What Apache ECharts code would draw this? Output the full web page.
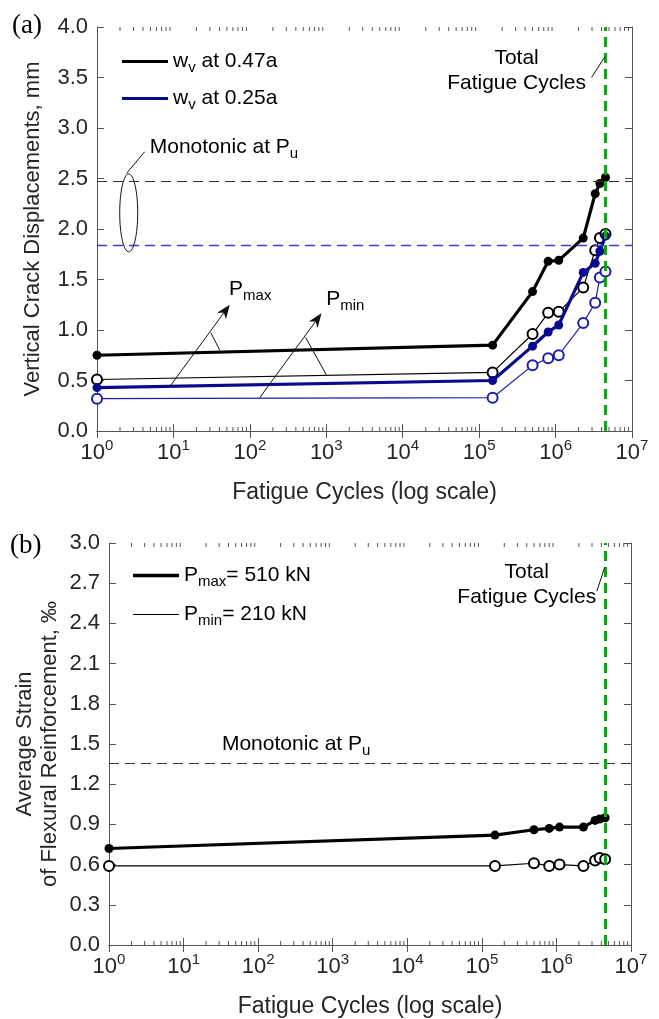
<!DOCTYPE html>
<html>
<head>
<meta charset="utf-8">
<script src="https://cdn.jsdelivr.net/npm/echarts@6/dist/echarts.min.js"></script>
<style>
  html, body { margin: 0; padding: 0; background: #fff; }
  #chart { width: 659px; height: 1019px; }
</style>
</head>
<body>
<div id="chart"></div>
<script>
// Fatigue cycle counts at which readings were taken
const cycles = [1, 1.5e5, 5e5, 8e5, 1.1e6, 2.3e6, 3.3e6, 3.8e6, 4.5e6];

// Vertical crack displacement w_v (mm)
const wv047Pmax = [0.75, 0.85, 1.38, 1.68, 1.69, 1.91, 2.35, 2.45, 2.51];
const wv047Pmin = [0.51, 0.58, 0.96, 1.17, 1.18, 1.42, 1.79, 1.91, 1.95];
const wv025Pmax = [0.43, 0.50, 0.84, 0.98, 1.05, 1.57, 1.66, 1.78, 1.93];
const wv025Pmin = [0.32, 0.33, 0.65, 0.72, 0.75, 1.07, 1.27, 1.52, 1.58];

// Average strain of flexural reinforcement (‰)
const strainPmax = [0.72, 0.82, 0.86, 0.87, 0.88, 0.88, 0.93, 0.94, 0.95];
const strainPmin = [0.59, 0.59, 0.61, 0.59, 0.60, 0.59, 0.63, 0.65, 0.64];

// Reference levels
const totalCycles = 4.5e6;
const monotonicWv047 = 2.47;
const monotonicWv025 = 1.84;
const monotonicStrain = 1.36;

// Log-axis minor tick multipliers within each decade
const decades = [1, 10, 100, 1e3, 1e4, 1e5, 1e6];
const minorSteps = [2, 3, 4, 5, 6, 7, 8, 9];

const FONT = 'Liberation Sans, Arial, Helvetica, sans-serif';
const AXIS_COLOR = '#555';
const LABEL_COLOR = '#262626';
const NAVY = '#0a0a8f';
const BLUE_THIN = '#1c1cae';
const GREEN = '#17a317';

const chart = echarts.init(document.getElementById('chart'), null, { renderer: 'canvas' });

const pairs = ys => cycles.map((c, i) => [c, ys[i]]);

const supRich = {
  b: { fontSize: 22, fontFamily: FONT, color: LABEL_COLOR },
  s: { fontSize: 15, fontFamily: FONT, color: LABEL_COLOR, padding: [0, 0, 15, 0] }
};
const subRich = (color) => ({
  b: { fontSize: 21, fontFamily: FONT, color: color },
  s: { fontSize: 15, fontFamily: FONT, color: color, padding: [13, 0, 0, 0] }
});

function xAxisPair(gridIndex) {
  const common = {
    type: 'log', logBase: 10, min: 1, max: 1e7, splitNumber: 7, gridIndex,
    axisLine: { show: true, lineStyle: { color: AXIS_COLOR, width: 1 } },
    axisTick: { show: true, inside: true, length: 7, lineStyle: { color: AXIS_COLOR } },
    splitLine: { show: false }
  };
  return [
    Object.assign({}, common, {
      position: 'bottom',
      axisLabel: {
        margin: 7,
        formatter: v => '{b|10}{s|' + Math.round(Math.log10(v)) + '}',
        rich: supRich
      },
      name: 'Fatigue Cycles (log scale)',
      nameLocation: 'middle',
      nameGap: 50,
      nameTextStyle: { fontSize: 23, fontFamily: FONT, color: LABEL_COLOR }
    }),
    Object.assign({}, common, { position: 'top', axisLabel: { show: false } })
  ];
}

function yAxisPair(gridIndex, max, interval, name, nameGap) {
  const common = {
    type: 'value', min: 0, max, interval, gridIndex,
    axisLine: { show: true, lineStyle: { color: AXIS_COLOR, width: 1 } },
    axisTick: { show: true, inside: true, length: 7, lineStyle: { color: AXIS_COLOR } },
    splitLine: { show: false }
  };
  return [
    Object.assign({}, common, {
      position: 'left',
      axisLabel: {
        margin: 9, fontSize: 22, fontFamily: FONT, color: LABEL_COLOR,
        formatter: v => v.toFixed(1)
      },
      name, nameLocation: 'middle', nameGap, nameRotate: 90,
      nameMoveOverlap: false,
      nameTextStyle: { fontSize: 22, fontFamily: FONT, color: LABEL_COLOR, lineHeight: 25 }
    }),
    Object.assign({}, common, { position: 'right', axisLabel: { show: false } })
  ];
}

// Short minor ticks on the bottom and top edges of a log-x grid
function minorTickSeries(xi, yi, yMin, yMax) {
  const values = [];
  decades.forEach(d => minorSteps.forEach(m => values.push([d * m, yMin])));
  return {
    type: 'custom', xAxisIndex: xi, yAxisIndex: yi, silent: true, clip: false, z: 1,
    data: values,
    renderItem(params, api) {
      const b = api.coord([api.value(0), yMin]);
      const t = api.coord([api.value(0), yMax]);
      const st = { stroke: AXIS_COLOR, lineWidth: 1 };
      return {
        type: 'group',
        children: [
          { type: 'line', shape: { x1: b[0], y1: b[1], x2: b[0], y2: b[1] - 4 }, style: st },
          { type: 'line', shape: { x1: t[0], y1: t[1], x2: t[0], y2: t[1] + 4 }, style: st }
        ]
      };
    }
  };
}

function dataSeries(name, ys, xi, yi, color, thick) {
  return {
    name, type: 'line', xAxisIndex: xi, yAxisIndex: yi,
    data: pairs(ys),
    symbol: thick ? 'circle' : 'emptyCircle',
    symbolSize: thick ? 9 : 10,
    showSymbol: true,
    lineStyle: { color, width: thick ? 3.2 : 1.2 },
    itemStyle: { color, borderColor: color, borderWidth: thick ? 0 : 1.2 },
    emphasis: { disabled: true },
    z: thick ? 4 : 3
  };
}

// Horizontal / vertical reference lines drawn as their own mark-line series
function refLineSeries(xi, yi, item, color, width, dash, z) {
  return {
    type: 'line', xAxisIndex: xi, yAxisIndex: yi, data: [], silent: true, z,
    markLine: {
      silent: true, symbol: 'none', label: { show: false }, animation: false,
      emphasis: { disabled: true },
      lineStyle: { color, width, type: dash, opacity: 1 },
      data: [item]
    }
  };
}

const legendText = {
  wv047: '{b|w}{s|v}{b| at 0.47a}',
  wv025: '{b|w}{s|v}{b| at 0.25a}',
  strainPmax: '{b|P}{s|max}{b|= 510 kN}',
  strainPmin: '{b|P}{s|min}{b|= 210 kN}'
};

function legendItem(name, left, top, thickness) {
  return {
    data: [{ name, icon: 'rect', itemStyle: { borderWidth: 0 } }],
    left, top, orient: 'vertical',
    itemWidth: 46, itemHeight: thickness,
    selectedMode: false,
    itemStyle: { borderWidth: 0 },
    formatter: n => legendText[n],
    textStyle: { rich: subRich('#000') }
  };
}

const option = {
  animation: false,
  backgroundColor: '#fff',
  grid: [
    { left: 97, top: 27, width: 535, height: 404 },
    { left: 109, top: 543, width: 522, height: 404 }
  ],
  xAxis: [...xAxisPair(0), ...xAxisPair(1)],
  yAxis: [
    ...yAxisPair(0, 4, 0.5, 'Vertical Crack Displacements, mm', 52),
    ...yAxisPair(1, 3, 0.3, 'Average Strain\nof Flexural Reinforcement, ‰', 47)
  ],
  legend: [
    legendItem('wv047', 117, 46, 3),
    legendItem('wv025', 117, 83, 3),
    legendItem('strainPmax', 128, 560, 3.5),
    legendItem('strainPmin', 128, 599, 1)
  ],
  series: [
    minorTickSeries(0, 0, 0, 4),
    minorTickSeries(2, 2, 0, 3),
    refLineSeries(0, 0, { yAxis: monotonicWv047 }, '#333', 1.2, [10, 6], 2),
    refLineSeries(0, 0, { yAxis: monotonicWv025 }, '#3d3dd6', 1.3, [10, 6], 2),
    refLineSeries(0, 0, { xAxis: totalCycles }, GREEN, 3, [10, 6], 6),
    dataSeries('wv047', wv047Pmax, 0, 0, '#000', true),
    dataSeries('wv047min', wv047Pmin, 0, 0, '#000', false),
    dataSeries('wv025', wv025Pmax, 0, 0, NAVY, true),
    dataSeries('wv025min', wv025Pmin, 0, 0, BLUE_THIN, false),
    refLineSeries(2, 2, { yAxis: monotonicStrain }, '#333', 1.2, [10, 6], 2),
    refLineSeries(2, 2, { xAxis: totalCycles }, GREEN, 3, [10, 6], 6),
    dataSeries('strainPmax', strainPmax, 2, 2, '#000', true),
    dataSeries('strainPmin', strainPmin, 2, 2, '#000', false)
  ]
};

chart.setOption(option);

// ---- annotations, anchored in data coordinates ----
const TOP = { xAxisIndex: 0, yAxisIndex: 0 };
const BOT = { xAxisIndex: 2, yAxisIndex: 2 };
const px = (finder, p) => chart.convertToPixel(finder, p);
const INK = '#111';

function segment(a, b) {
  return { type: 'line', silent: true, z: 20,
    shape: { x1: a[0], y1: a[1], x2: b[0], y2: b[1] },
    style: { stroke: INK, lineWidth: 1 } };
}
function arrow(a, b) {
  const dx = b[0] - a[0], dy = b[1] - a[1];
  const L = Math.hypot(dx, dy), ux = dx / L, uy = dy / L;
  const hl = 14, hw = 5.5;
  const bx = b[0] - ux * hl, by = b[1] - uy * hl;
  const nx = bx + ux * 4, ny = by + uy * 4;
  return [
    segment(a, [nx, ny]),
    { type: 'polygon', silent: true, z: 20,
      shape: { points: [b, [bx - uy * hw, by + ux * hw], [nx, ny], [bx + uy * hw, by - ux * hw]] },
      style: { fill: INK } }
  ];
}
function label(p, text, align) {
  return { type: 'text', silent: true, z: 20, x: p[0], y: p[1],
    style: { text, rich: subRich('#000'), align: align || 'left', verticalAlign: 'middle' } };
}
function twoLine(p, l1, l2) {
  return { type: 'text', silent: true, z: 20, x: p[0], y: p[1],
    style: { text: l1 + '\n' + l2, fontSize: 21, fontFamily: FONT, fill: '#000',
      lineHeight: 25, align: 'center', verticalAlign: 'middle' } };
}

const g = [];
// panel (a)
const eC = px(TOP, [2.6, 2.16]);
g.push({ type: 'ellipse', silent: true, z: 20, shape: { cx: eC[0], cy: eC[1], rx: 9, ry: 39 },
  style: { fill: 'none', stroke: INK, lineWidth: 1 } });
g.push(segment(px(TOP, [2.43, 2.55]), px(TOP, [4.21, 2.765])));
g.push(label(px(TOP, [4.9, 2.81]), '{b|Monotonic at P}{s|u}'));
g.push(...arrow(px(TOP, [8.76, 0.43]), px(TOP, [54.6, 1.25])));
g.push(segment(px(TOP, [30.8, 0.973]), px(TOP, [40.4, 0.80])));
g.push(label(px(TOP, [53.4, 1.40]), '{b|P}{s|max}'));
g.push(...arrow(px(TOP, [134.6, 0.33]), px(TOP, [865, 1.165])));
g.push(segment(px(TOP, [534, 0.928]), px(TOP, [1006, 0.554])));
g.push(label(px(TOP, [1000, 1.30]), '{b|P}{s|min}'));
g.push(twoLine(px(TOP, [3.09e5, 3.57]), 'Total', 'Fatigue Cycles'));
g.push(segment(px(TOP, [2.96e6, 3.50]), px(TOP, [4.42e6, 3.706])));
// panel (b)
g.push(label(px(BOT, [32.7, 1.50]), '{b|Monotonic at P}{s|u}'));
g.push(twoLine(px(BOT, [4.0e5, 2.69]), 'Total', 'Fatigue Cycles'));
g.push(segment(px(BOT, [3.48e6, 2.64]), px(BOT, [4.45e6, 2.82])));
// panel letters
g.push({ type: 'text', silent: true, x: 12, y: 26, style: { text: '(a)', fontSize: 27,
  fontFamily: 'Liberation Serif, Times New Roman, serif', fill: '#000', verticalAlign: 'middle' } });
g.push({ type: 'text', silent: true, x: 10, y: 546, style: { text: '(b)', fontSize: 27,
  fontFamily: 'Liberation Serif, Times New Roman, serif', fill: '#000', verticalAlign: 'middle' } });

chart.setOption({ graphic: g });
</script>
</body>
</html>
